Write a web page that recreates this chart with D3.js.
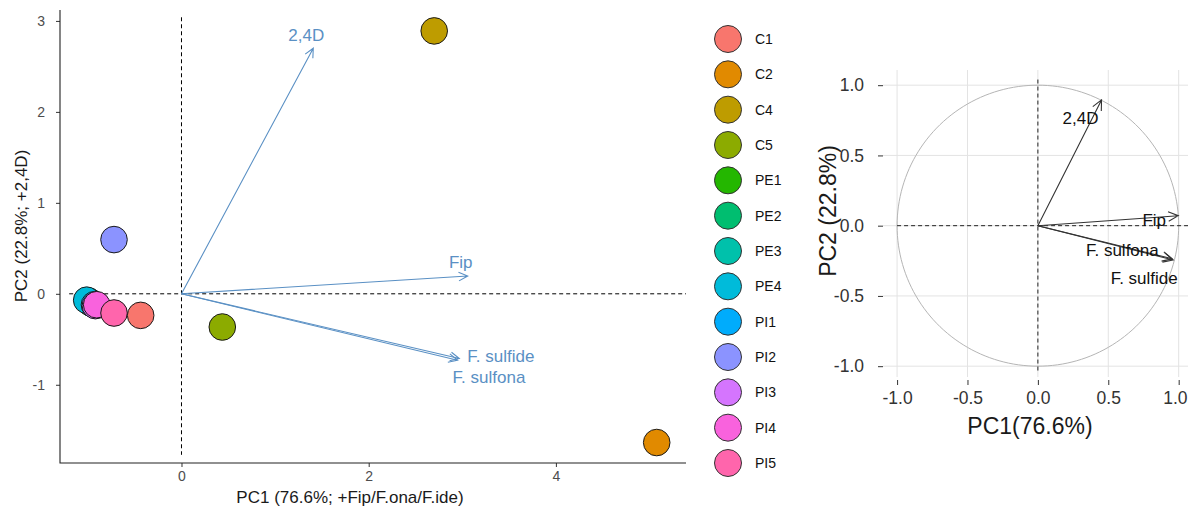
<!DOCTYPE html>
<html>
<head>
<meta charset="utf-8">
<script src="https://cdn.jsdelivr.net/npm/d3@7"></script>
<style>
  html, body { margin: 0; padding: 0; background: #fff; }
  svg { display: block; font-family: "Liberation Sans", Arial, sans-serif; }
</style>
</head>
<body>
<svg id="chart" width="1188" height="510"></svg>
<script>
// Sample groups and their PCA scores (PC1, PC2)
const samples = ["C1", "C2", "C4", "C5", "PE1", "PE2", "PE3", "PE4", "PI1", "PI2", "PI3", "PI4", "PI5"];
const scorePC1 = [-0.436, 5.077, 2.70, 0.436, -0.97, -0.95, -0.99, -1.013, -0.93, -0.721, -0.92, -0.906, -0.721];
const scorePC2 = [-0.237, -1.635, 2.89, -0.365, -0.10, -0.11, -0.08, -0.07, -0.12, 0.596, -0.13, -0.12, -0.211];
const sampleColors = ["#F8766D", "#E18A00", "#BE9C00", "#8CAB00", "#24B700", "#00BE70", "#00C1AB",
                      "#00BBDA", "#00ACFC", "#8B93FF", "#D575FE", "#F962DD", "#FF65AC"];

// Variables and their biplot loadings
const variables = ["2,4D", "Fip", "F. sulfide", "F. sulfona"];
const biplotPC1 = [1.408, 3.058, 2.968, 2.950];
const biplotPC2 = [2.70, 0.196, -0.712, -0.730];

// Correlation of each variable with the two components
const corPC1 = [0.452, 0.997, 0.961, 0.955];
const corPC2 = [0.895, 0.071, -0.244, -0.236];

// Axis ticks
const biplotXTicks = [0, 2, 4];
const biplotYTicks = [-1, 0, 1, 2, 3];
const circleTicks = [-1.0, -0.5, 0.0, 0.5, 1.0];

const svg = d3.select("#chart");
const fmtInt = d => String(d);
const fmt1 = d => d.toFixed(1);

function arrowPath(x0, y0, x1, y1, len, ang) {
  const a = Math.atan2(y1 - y0, x1 - x0);
  const p1 = [x1 - len * Math.cos(a - ang), y1 - len * Math.sin(a - ang)];
  const p2 = [x1 - len * Math.cos(a + ang), y1 - len * Math.sin(a + ang)];
  return `M${x0},${y0}L${x1},${y1}M${p1[0]},${p1[1]}L${x1},${y1}L${p2[0]},${p2[1]}`;
}

/* ---------------- Biplot ---------------- */
const bx = d3.scaleLinear().domain([-1.298, 5.39]).range([60, 686]);
const by = d3.scaleLinear().domain([-1.86, 3.12]).range([463, 10]);

const left = svg.append("g");

// reference lines through the origin
left.append("line")
  .attr("x1", bx(-1.2)).attr("x2", bx(5.39)).attr("y1", by(0)).attr("y2", by(0))
  .attr("stroke", "#000").attr("stroke-width", 1).attr("stroke-dasharray", "4,3");
left.append("line")
  .attr("x1", bx(0)).attr("x2", bx(0)).attr("y1", by(3.04)).attr("y2", by(-1.77))
  .attr("stroke", "#000").attr("stroke-width", 1).attr("stroke-dasharray", "4,3");

// axes
const bxAxis = left.append("g").attr("transform", `translate(0,${by.range()[0]})`)
  .call(d3.axisBottom(bx).tickValues(biplotXTicks).tickFormat(fmtInt).tickSize(4).tickPadding(4));
const byAxis = left.append("g").attr("transform", `translate(${bx.range()[0]},0)`)
  .call(d3.axisLeft(by).tickValues(biplotYTicks).tickFormat(fmtInt).tickSize(4).tickPadding(11));
[bxAxis, byAxis].forEach(g => {
  g.select(".domain").remove();
  g.selectAll(".tick line").attr("stroke", "#333");
  g.selectAll(".tick text").attr("fill", "#4d4d4d").style("font-size", "14px");
});
left.append("path")
  .attr("d", `M${bx.range()[0]},${by.range()[1]}V${by.range()[0]}H${bx.range()[1]}`)
  .attr("fill", "none").attr("stroke", "#222").attr("stroke-width", 1.1);

left.append("text")
  .attr("x", 350).attr("y", 503).attr("text-anchor", "middle")
  .attr("fill", "#1a1a1a").style("font-size", "17px")
  .text("PC1 (76.6%; +Fip/F.ona/F.ide)");
left.append("text")
  .attr("transform", `translate(27,226) rotate(-90)`)
  .attr("text-anchor", "middle").attr("fill", "#1a1a1a").style("font-size", "17px")
  .text("PC2 (22.8%; +2,4D)");

// loading arrows
const arrowBlue = "#5A90C4";
const ox = bx(0), oy = by(0);
left.selectAll(".load").data(variables).join("path")
  .attr("class", "load")
  .attr("d", (d, i) => arrowPath(ox, oy, bx(biplotPC1[i]), by(biplotPC2[i]), 10, Math.PI / 7))
  .attr("fill", "none").attr("stroke", arrowBlue).attr("stroke-width", 1.1);

// label nudges (pixels relative to arrow tip) and anchors
const biplotNudge = {
  "2,4D": [-7, -13, "middle"],
  "Fip": [-7, -14, "middle"],
  "F. sulfide": [8, -3, "start"],
  "F. sulfona": [-5, 17, "start"]
};
left.selectAll(".loadLabel").data(variables).join("text")
  .attr("class", "loadLabel")
  .attr("x", (d, i) => bx(biplotPC1[i]) + biplotNudge[d][0])
  .attr("y", (d, i) => by(biplotPC2[i]) + biplotNudge[d][1])
  .attr("dy", "0.35em")
  .attr("text-anchor", d => biplotNudge[d][2])
  .attr("fill", arrowBlue).style("font-size", "17px")
  .text(d => d);

// sample points
left.selectAll(".pt").data(samples).join("circle")
  .attr("class", "pt")
  .attr("cx", (d, i) => bx(scorePC1[i]))
  .attr("cy", (d, i) => by(scorePC2[i]))
  .attr("r", 13.3)
  .attr("fill", (d, i) => sampleColors[i])
  .attr("stroke", "#1a1a1a").attr("stroke-width", 1);

/* ---------------- Legend ---------------- */
const legend = svg.append("g");
const ly = d3.scalePoint().domain(samples).range([39, 463]);
legend.selectAll("circle").data(samples).join("circle")
  .attr("cx", 728).attr("cy", d => ly(d)).attr("r", 13.5)
  .attr("fill", (d, i) => sampleColors[i])
  .attr("stroke", "#333").attr("stroke-width", 1);
legend.selectAll("text").data(samples).join("text")
  .attr("x", 755).attr("y", d => ly(d)).attr("dy", "0.35em")
  .attr("fill", "#111").style("font-size", "14px")
  .text(d => d);

/* ---------------- Correlation circle ---------------- */
const cx = d3.scaleLinear().domain([-1.1, 1.2]).range([883, 883 + 2.3 * 140.8]);
const cy = d3.scaleLinear().domain([-1.077, 1.108]).range([377, 70]);
const right = svg.append("g");

// grid
right.selectAll(".vg").data(circleTicks).join("line")
  .attr("x1", d => cx(d)).attr("x2", d => cx(d)).attr("y1", cy.range()[0]).attr("y2", cy.range()[1])
  .attr("stroke", "#e3e3e3").attr("stroke-width", 1);
right.selectAll(".hg").data(circleTicks).join("line")
  .attr("x1", cx.range()[0]).attr("x2", cx.range()[1]).attr("y1", d => cy(d)).attr("y2", d => cy(d))
  .attr("stroke", "#e3e3e3").attr("stroke-width", 1);

// unit circle
const circ = d3.range(0, 361, 2).map(a => [Math.cos(a * Math.PI / 180), Math.sin(a * Math.PI / 180)]);
right.append("path")
  .attr("d", d3.line().x(p => cx(p[0])).y(p => cy(p[1]))(circ))
  .attr("fill", "none").attr("stroke", "#b5b5b5").attr("stroke-width", 1);

// origin lines
right.append("line")
  .attr("x1", cx(-1.0)).attr("x2", cx.range()[1]).attr("y1", cy(0)).attr("y2", cy(0))
  .attr("stroke", "#222").attr("stroke-width", 1).attr("stroke-dasharray", "4,3");
right.append("line")
  .attr("x1", cx(0)).attr("x2", cx(0)).attr("y1", cy(1.04)).attr("y2", cy(-1.05))
  .attr("stroke", "#222").attr("stroke-width", 1).attr("stroke-dasharray", "4,3");

// ticks
right.append("g").attr("transform", `translate(0,380)`)
  .call(d3.axisBottom(cx).tickValues(circleTicks).tickFormat(fmt1).tickSize(5).tickPadding(7))
  .call(g => {
    g.select(".domain").remove();
    g.selectAll(".tick line").attr("stroke", "#333");
    g.selectAll(".tick text").attr("fill", "#333").style("font-size", "17.5px");
    // keep the last label inside the drawing area
    g.selectAll(".tick text").filter(d => d === 1).attr("text-anchor", "end").attr("x", 1187 - cx(1));
  });
right.append("g").attr("transform", `translate(883,0)`)
  .call(d3.axisLeft(cy).tickValues(circleTicks).tickFormat(fmt1).tickSize(5).tickPadding(14))
  .call(g => {
    g.select(".domain").remove();
    g.selectAll(".tick line").attr("stroke", "#333");
    g.selectAll(".tick text").attr("fill", "#333").style("font-size", "17.5px");
  });

right.append("text")
  .attr("x", 1030).attr("y", 434).attr("text-anchor", "middle")
  .attr("fill", "#1a1a1a").style("font-size", "23px").text("PC1(76.6%)");
right.append("text")
  .attr("transform", `translate(836,211) rotate(-90)`)
  .attr("text-anchor", "middle").attr("fill", "#1a1a1a").style("font-size", "23px").text("PC2 (22.8%)");

// correlation arrows
const cox = cx(0), coy = cy(0);
right.selectAll(".cor").data(variables).join("path")
  .attr("class", "cor")
  .attr("d", (d, i) => arrowPath(cox, coy, cx(corPC1[i]), cy(corPC2[i]), 11, Math.PI / 7))
  .attr("fill", "none").attr("stroke", "#333").attr("stroke-width", 1.1);

const circleNudge = {
  "2,4D": [-21, 18],
  "Fip": [-24, 4],
  "F. sulfide": [-29, 18],
  "F. sulfona": [-50, -9]
};
right.selectAll(".corLabel").data(variables).join("text")
  .attr("class", "corLabel")
  .attr("x", (d, i) => cx(corPC1[i]) + circleNudge[d][0])
  .attr("y", (d, i) => cy(corPC2[i]) + circleNudge[d][1])
  .attr("dy", "0.35em").attr("text-anchor", "middle")
  .attr("fill", "#111").style("font-size", "17px")
  .text(d => d);
</script>
</body>
</html>
